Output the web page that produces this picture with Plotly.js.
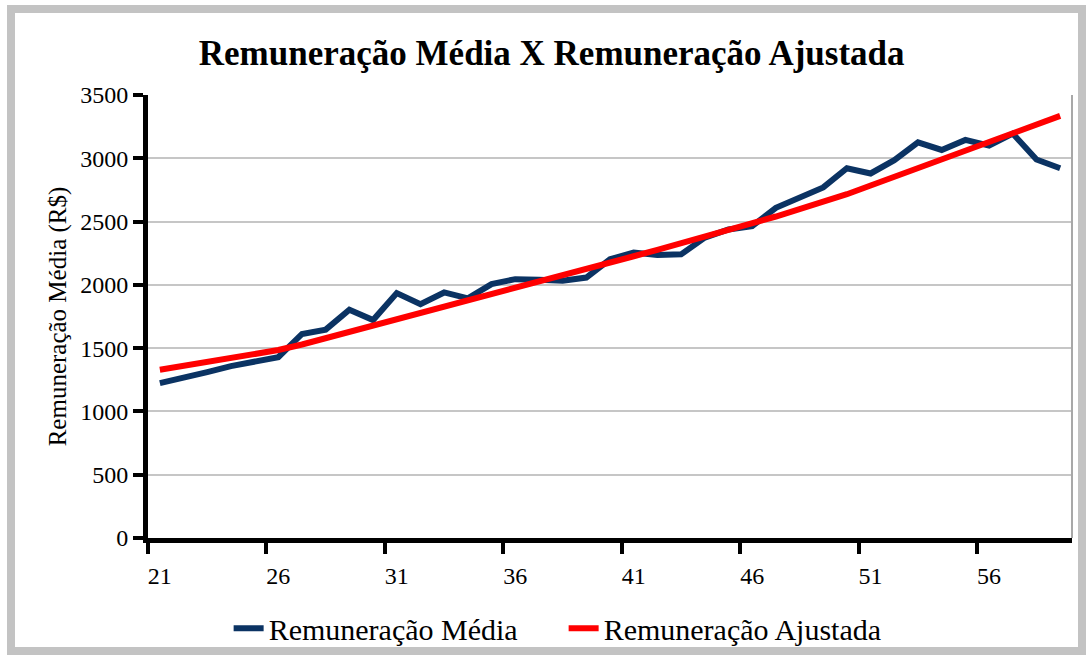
<!DOCTYPE html>
<html>
<head>
<meta charset="utf-8">
<script src="https://cdn.plot.ly/plotly-3.0.1.min.js"></script>
<style>
  html, body { margin: 0; padding: 0; background: #ffffff; }
  #chart { position: absolute; left: 0; top: 0; width: 1086px; height: 655px; }
  #frame { position: absolute; left: 7px; top: 5px; width: 1063px; height: 634px;
           border: 8px solid #c3c3c3; pointer-events: none; }
</style>
</head>
<body>
<div id="chart"></div>
<div id="frame"></div>
<script>
// Ages (categories)
const ages = [21,22,23,24,25,26,27,28,29,30,31,32,33,34,35,36,37,38,39,40,
              41,42,43,44,45,46,47,48,49,50,51,52,53,54,55,56,57,58,59];

// Remuneração Média (R$)
const remMedia = [1224,1264,1311,1358,1390,1429,1612,1646,1804,1722,
                  1935,1848,1940,1893,2006,2045,2040,2032,2058,2202,
                  2255,2236,2241,2373,2438,2464,2609,2687,2770,2921,
                  2880,2985,3126,3066,3145,3100,3195,2990,2921];

// Remuneração Ajustada (R$)
const remAjustada = [1329,1358,1388,1419,1451,1485,1529,1578,1627,1677,
                     1726,1776,1825,1875,1925,1975,2025,2075,2125,2175,
                     2226,2277,2328,2380,2432,2484,2540,2598,2656,2716,
                     2785,2855,2925,2995,3065,3135,3200,3270,3335];

const yTicks = [0,500,1000,1500,2000,2500,3000,3500];

const cats = ages.map(String);
const serif = "'Liberation Serif', 'Times New Roman', serif";

const traces = [
  { x: cats, y: remMedia, type: 'scatter', mode: 'lines',
    name: 'Remuneração Média', line: { color: '#0b3363', width: 6 } },
  { x: cats, y: remAjustada, type: 'scatter', mode: 'lines',
    name: 'Remuneração Ajustada', line: { color: '#ff0000', width: 6 } }
];

const layout = {
  width: 1086, height: 655,
  margin: { l: 148, r: 14, t: 95, b: 117 },
  paper_bgcolor: '#ffffff', plot_bgcolor: '#ffffff',
  font: { family: serif, color: '#000000' },
  title: {
    text: '<b>Remuneração Média X Remuneração Ajustada</b>',
    font: { family: serif, size: 35, color: '#000000' },
    xref: 'container', x: 0.508, xanchor: 'center',
    yref: 'container', y: 0.92, yanchor: 'middle'
  },
  xaxis: {
    type: 'category',
    range: [-0.5, ages.length - 0.5],
    dtick: 5, tick0: 0,
    tickson: 'boundaries',
    tickangle: 0,
    ticks: 'outside', ticklen: 11, tickwidth: 4, tickcolor: '#000000',
    showline: true, linewidth: 5, linecolor: '#000000',
    showgrid: false, zeroline: false,
    ticklabelstandoff: 12,
    tickfont: { family: serif, size: 24, color: '#000000' },
    fixedrange: true
  },
  yaxis: {
    range: [0, 3500],
    tickvals: yTicks,
    ticktext: yTicks.map(String),
    ticks: 'outside', ticklen: 10, tickwidth: 4, tickcolor: '#000000',
    showline: true, linewidth: 5, linecolor: '#000000',
    showgrid: true, gridcolor: '#c6c6c6', gridwidth: 2,
    zeroline: false,
    ticklabelstandoff: 0,
    tickfont: { family: serif, size: 24, color: '#000000' },
    title: { text: 'Remuneração Média (R$)', standoff: 8,
             font: { family: serif, size: 25, color: '#000000' } },
    fixedrange: true
  },
  shapes: [
    { type: 'line', xref: 'paper', yref: 'paper', x0: 1, x1: 1, y0: 0, y1: 1,
      line: { color: '#a8a8a8', width: 2 } }
  ],
  showlegend: true,
  legend: {
    orientation: 'h',
    xref: 'container', x: 0.519, xanchor: 'center',
    yref: 'container', y: 0.041, yanchor: 'middle',
    font: { family: serif, size: 30, color: '#000000' },
    bgcolor: 'rgba(0,0,0,0)',
    itemwidth: 30,
    entrywidth: 290
  }
};

Plotly.newPlot('chart', traces, layout, { displayModeBar: false, staticPlot: true });
</script>
</body>
</html>
